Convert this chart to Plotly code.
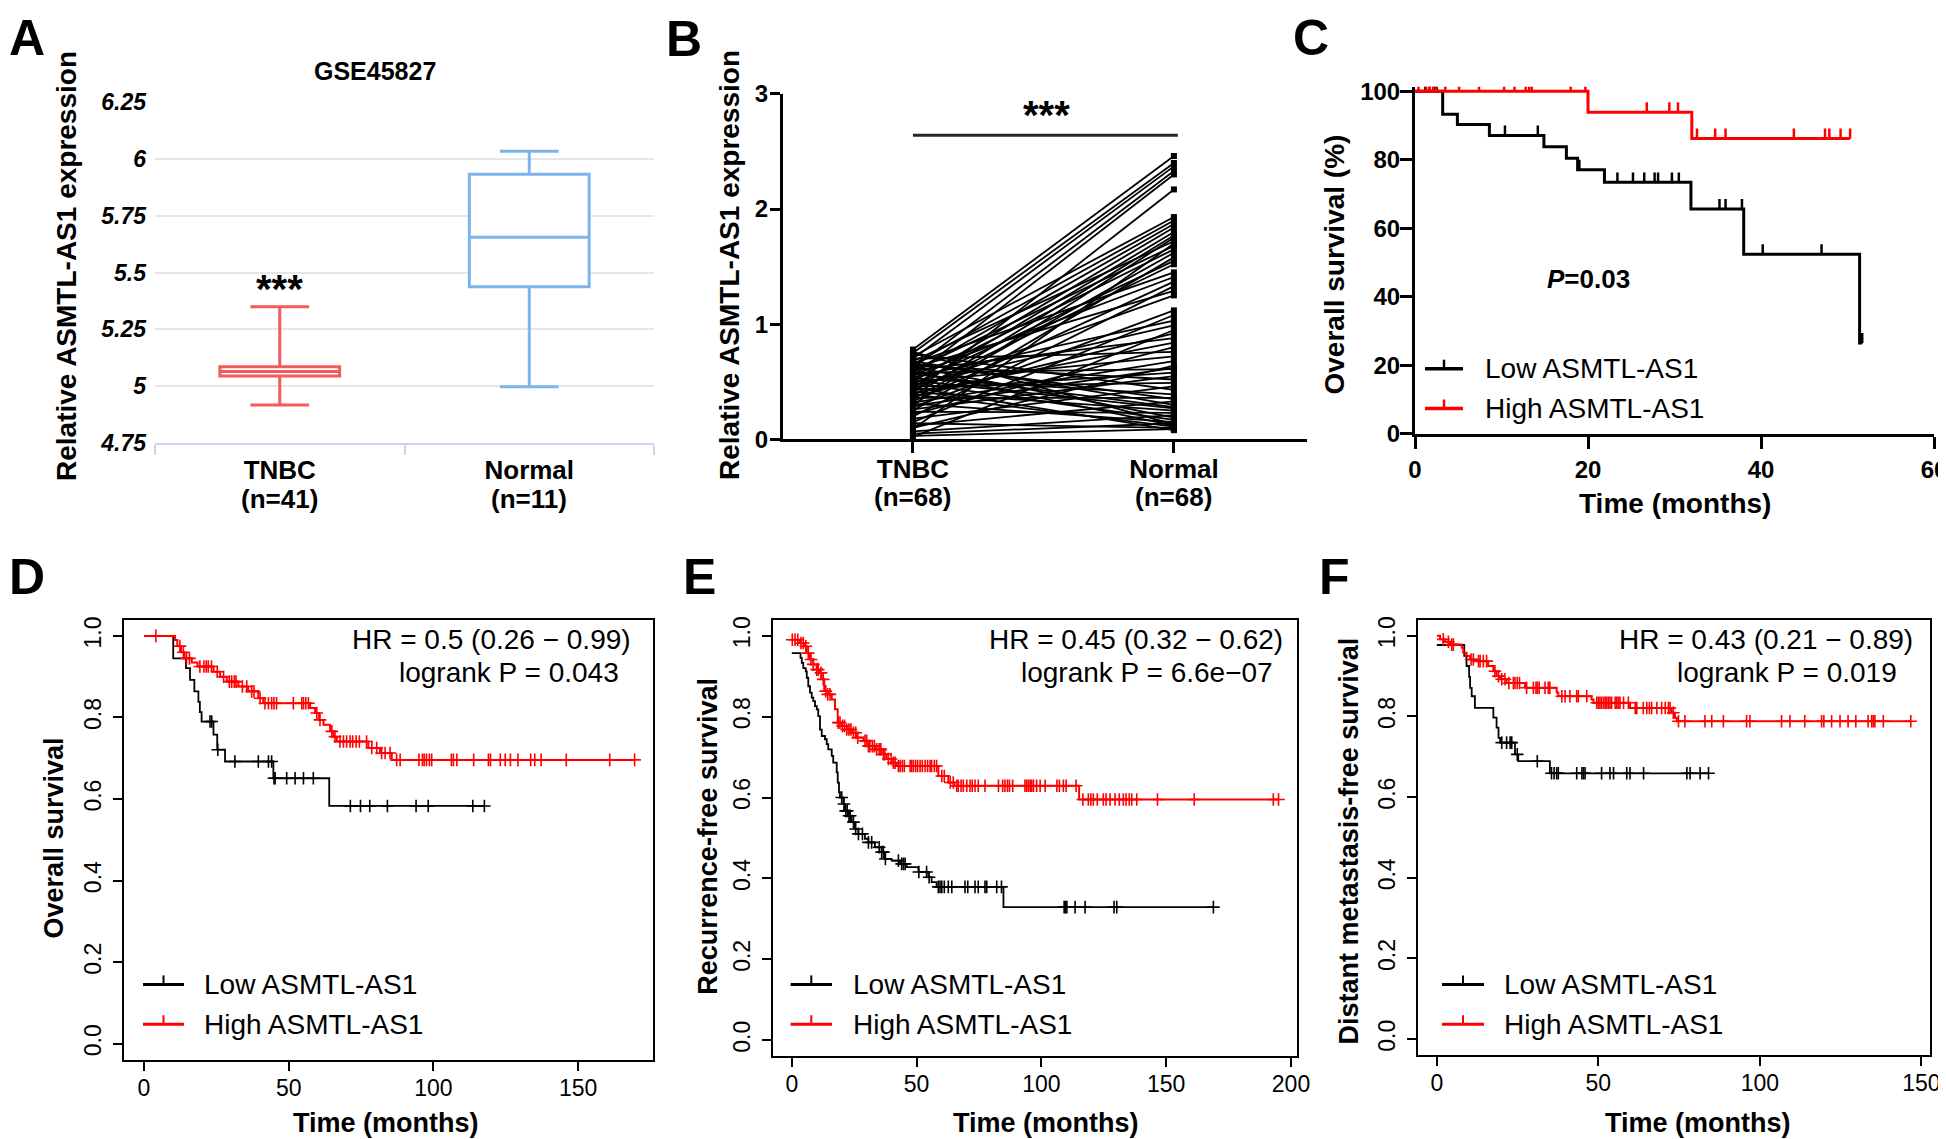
import numpy as np
import plotly.graph_objects as go

# target picture size and the page's default body margin
W, H = 1946, 1139
OFF = 8
FW, FH = W - OFF, H - OFF
FONT = "Liberation Sans, Arial, Helvetica, sans-serif"

# ================= DATA =================
# Panel A: GSE45827 box summary
a_groups = ["TNBC", "Normal"]
a_counts = ["(n=41)", "(n=11)"]
a_lower = [4.917, 4.998]
a_q1 = [5.045, 5.438]
a_median = [5.065, 5.655]
a_q3 = [5.085, 5.932]
a_upper = [5.349, 6.034]
a_colors = ["#f45b5b", "#7cb5ec"]
a_yticks = [4.75, 5, 5.25, 5.5, 5.75, 6, 6.25]
a_yticktext = ["4.75", "5", "5.25", "5.5", "5.75", "6", "6.25"]

# Panel B: paired expression (68 pairs)
b_groups = ["TNBC", "Normal"]
b_counts = ["(n=68)", "(n=68)"]
b_tnbc = [0.78, 0.75, 0.70, 0.62, 0.55, 0.40, 0.72, 0.65, 0.58, 0.50,
          0.45, 0.38, 0.30, 0.68, 0.60, 0.52, 0.35, 0.25, 0.48, 0.42,
          0.66, 0.56, 0.33, 0.20, 0.62, 0.44, 0.28, 0.15, 0.54, 0.47,
          0.37, 0.60, 0.40, 0.22, 0.70, 0.50, 0.32, 0.10, 0.58, 0.43,
          0.26, 0.64, 0.46, 0.18, 0.74, 0.53, 0.36, 0.12, 0.68, 0.57,
          0.41, 0.24, 0.07, 0.63, 0.49, 0.31, 0.05, 0.76, 0.59, 0.39,
          0.14, 0.03, 0.66, 0.51, 0.29, 0.09, 0.45, 0.02]
b_normal = [2.46, 2.40, 2.37, 2.33, 2.30, 2.17, 1.93, 1.90, 1.87, 1.84,
            1.80, 1.77, 1.75, 1.72, 1.68, 1.65, 1.62, 1.58, 1.55, 1.52,
            1.45, 1.41, 1.37, 1.33, 1.29, 1.25, 1.12, 1.08, 1.03, 0.99,
            0.92, 0.88, 0.84, 0.80, 0.76, 0.72, 0.68, 0.64, 0.61, 0.58,
            0.55, 0.52, 0.49, 0.46, 0.43, 0.39, 0.36, 0.33, 0.30, 0.28,
            0.25, 0.23, 0.21, 0.19, 0.17, 0.15, 0.14, 0.13, 0.12, 0.11,
            0.10, 0.09, 0.35, 0.27, 0.62, 1.70, 0.08, 0.95]
b_yticks = [0, 1, 2, 3]

# Panel C: KM overall survival (%), cohort
c_low_s0 = 100
c_low_t = [3.2, 4.9, 8.6, 14.9, 17.5, 18.8, 21.9, 31.9, 38.0, 51.4]
c_low_s = [93.3, 90.3, 87.1, 83.8, 80.4, 77.1, 73.4, 65.6, 52.4, 26.5]
c_low_c = [1.2, 1.7, 2.2, 2.5, 10.4, 14.2, 19.0, 23.4, 25.2, 26.5, 27.7, 28.1,
           29.7, 30.5, 35.2, 35.9, 37.8, 40.2, 47.0, 51.7]
c_high_s0 = 100
c_high_t = [20.0, 32.0]
c_high_s = [93.9, 86.2]
c_high_c = [0.4, 1.3, 1.7, 2.1, 2.4, 3.5, 5.1, 7.4, 10.3, 11.5, 12.8, 13.2, 13.5,
            18.0, 19.7, 26.8, 29.4, 30.4, 32.6, 34.7, 35.9, 43.8, 47.4, 47.9,
            49.2, 50.3]

# Panel D: KM plotter overall survival
d_low_s0 = 1.0
d_low_t = [10.1, 14.5, 15.9, 17.4, 18.8, 19.3, 19.9, 24.0, 25.3, 28.0, 44.7, 64.0]
d_low_s = [0.945, 0.921, 0.892, 0.864, 0.838, 0.813, 0.790, 0.758, 0.721, 0.692, 0.651, 0.583]
d_low_c = [22.8, 23.4, 25.5, 31.4, 39.5, 43.0, 44.1, 44.9, 45.3, 49.3, 52.2, 55.1,
           58.5, 71.3, 74.8, 78.0, 84.1, 94.0, 98.2, 113.6, 117.6]
d_high_s0 = 1.0
d_high_t = [10.7, 11.5, 12.8, 14.0, 16.5, 18.5, 24.0, 26.3, 28.6, 32.6, 36.0, 39.5,
            41.2, 57.4, 59.1, 60.5, 62.0, 64.3, 65.4, 66.6, 77.5, 81.5, 85.6]
d_high_s = [0.99, 0.975, 0.96, 0.945, 0.935, 0.925, 0.912, 0.90, 0.888, 0.876, 0.864,
            0.847, 0.835, 0.823, 0.811, 0.794, 0.782, 0.766, 0.753, 0.741, 0.725,
            0.713, 0.696]
d_high_c = [4.1, 12.4, 13.6, 14.7, 15.7, 19.3, 20.7, 21.5, 22.2, 23.3, 25.3, 27.5,
            29.5, 30.3, 31.2, 31.8, 34.0, 35.5, 37.2, 38.0, 40.1, 41.8, 43.0, 44.1,
            44.9, 45.8, 51.6, 54.5, 55.1, 55.9, 56.8, 59.7, 60.8, 64.9, 66.0, 67.7,
            68.9, 70.0, 71.2, 72.1, 73.3, 74.4, 76.9, 78.7, 80.4, 82.1, 83.3, 85.0,
            87.3, 88.5, 95.0, 96.2, 96.8, 97.6, 98.6, 99.4, 106.2, 106.9, 108.1,
            113.9, 119.0, 119.7, 123.1, 124.8, 126.6, 129.2, 133.6, 135.0, 137.2,
            145.9, 160.9, 169.5]

# Panel E: KM plotter recurrence-free survival
e_low_s0 = 0.957
e_low_t = [3.5, 4.0, 4.6, 5.6, 6.0, 6.6, 7.3, 8.0, 8.6, 9.3, 10.0, 10.6, 11.3, 12.0,
           13.3, 14.0, 14.6, 16.0, 16.6, 18.0, 18.4, 18.9, 19.3, 20.7, 21.3, 22.7,
           24.0, 25.3, 26.7, 29.3, 30.7, 33.3, 36.0, 37.3, 40.0, 43.4, 46.0, 50.7,
           54.7, 56.0, 58.0, 84.8]
e_low_s = [0.945, 0.933, 0.920, 0.912, 0.896, 0.875, 0.859, 0.847, 0.838, 0.826,
           0.818, 0.801, 0.768, 0.752, 0.744, 0.732, 0.719, 0.703, 0.686, 0.662,
           0.637, 0.613, 0.600, 0.584, 0.567, 0.555, 0.539, 0.522, 0.510, 0.498,
           0.489, 0.477, 0.465, 0.448, 0.444, 0.436, 0.428, 0.416, 0.403, 0.391,
           0.379, 0.329]
e_low_c = [20.0, 20.9, 21.6, 22.2, 22.9, 23.4, 24.7, 25.6, 26.7, 28.3, 30.7, 32.0,
           35.0, 36.0, 36.7, 37.5, 42.7, 44.0, 44.7, 45.4, 50.9, 54.0, 55.0, 58.7,
           59.4, 60.1, 61.1, 62.7, 64.1, 69.4, 70.5, 73.4, 74.7, 77.4, 78.1, 82.1,
           84.0, 109.1, 109.6, 110.2, 113.5, 117.5, 129.1, 130.2, 168.9]
e_high_s0 = 0.99
e_high_t = [3.3, 5.3, 6.0, 7.3, 8.6, 10.0, 11.3, 12.0, 13.0, 14.4, 16.0, 17.3, 18.4,
            20.0, 22.0, 24.0, 26.0, 28.7, 30.7, 33.3, 36.0, 38.0, 40.0, 42.0, 58.7,
            62.7, 65.0, 115.1]
e_high_s = [0.982, 0.974, 0.957, 0.941, 0.929, 0.916, 0.908, 0.892, 0.863, 0.855,
            0.842, 0.818, 0.785, 0.777, 0.768, 0.760, 0.748, 0.740, 0.727, 0.719,
            0.707, 0.695, 0.686, 0.678, 0.653, 0.637, 0.629, 0.595]
e_high_c = [0.2, 1.3, 2.4, 3.7, 4.6, 5.6, 6.6, 7.7, 8.6, 10.0, 10.6, 11.7, 12.6, 13.6,
            14.4, 15.3, 18.6, 19.3, 20.3, 21.1, 22.0, 22.9, 23.7, 24.7, 25.6, 26.4,
            29.3, 30.0, 30.7, 31.3, 32.3, 33.1, 34.0, 35.0, 35.7, 36.7, 37.3, 38.7,
            39.8, 40.7, 41.4, 42.7, 43.4, 44.3, 45.1, 47.4, 48.0, 48.7, 49.6, 50.4,
            51.4, 52.3, 53.4, 54.4, 55.4, 56.0, 57.1, 58.0, 60.1, 61.1, 63.5, 64.7,
            66.1, 66.7, 67.8, 68.7, 70.1, 71.4, 72.3, 73.4, 74.7, 77.4, 82.8, 84.5,
            85.4, 86.4, 87.2, 88.5, 93.4, 94.1, 94.8, 95.5, 96.1, 96.8, 98.1, 99.5,
            101.5, 106.2, 107.2, 108.8, 109.9, 113.9, 116.6, 118.8, 119.8, 120.8,
            122.4, 124.8, 125.9, 127.5, 129.5, 131.2, 132.8, 133.9, 135.2, 136.2,
            138.2, 146.5, 161.2, 192.9, 195.0]

# Panel F: KM plotter distant metastasis-free survival
f_low_s0 = 0.977
f_low_t = [8.5, 9.2, 10.0, 10.3, 10.8, 11.8, 17.5, 18.5, 19.1, 19.6, 24.2, 25.2, 35.0]
f_low_s = [0.950, 0.925, 0.898, 0.871, 0.850, 0.821, 0.797, 0.772, 0.747, 0.735,
           0.706, 0.689, 0.659]
f_low_c = [20.1, 21.6, 22.7, 23.2, 24.9, 31.1, 35.5, 36.3, 37.1, 37.6, 43.3, 44.9,
           45.4, 45.9, 51.0, 53.6, 54.7, 58.8, 59.8, 64.0, 77.4, 78.4, 81.5, 84.1]
f_high_s0 = 1.0
f_high_t = [1.0, 2.5, 4.1, 7.7, 8.2, 9.2, 10.3, 12.0, 15.9, 17.5, 18.5, 19.6, 21.6,
            27.3, 37.1, 37.6, 47.9, 48.5, 59.8, 72.7, 73.7, 74.3]
f_high_s = [0.991, 0.985, 0.978, 0.970, 0.958, 0.950, 0.941, 0.937, 0.925, 0.912,
            0.900, 0.892, 0.883, 0.871, 0.859, 0.850, 0.842, 0.834, 0.821, 0.809,
            0.797, 0.788]
f_high_c = [2.0, 3.6, 4.6, 5.1, 10.6, 11.3, 12.9, 13.4, 14.4, 15.4, 18.0, 19.1, 20.1,
            21.1, 22.3, 23.7, 24.2, 24.9, 25.6, 27.8, 29.9, 30.7, 31.1, 31.7, 33.5,
            34.5, 35.0, 38.7, 39.7, 41.2, 43.3, 43.8, 46.4, 49.5, 50.0, 50.5, 51.0,
            51.6, 52.1, 52.6, 53.1, 53.6, 54.1, 55.2, 55.7, 56.2, 56.7, 57.8, 59.3,
            61.4, 61.9, 63.9, 65.0, 65.8, 66.5, 68.1, 69.6, 70.7, 71.7, 72.2, 73.2,
            74.8, 76.8, 83.0, 85.1, 88.7, 95.9, 96.9, 106.7, 109.3, 113.9, 119.1,
            119.8, 122.2, 124.8, 127.3, 129.7, 133.5, 134.6, 135.1, 135.6, 138.2, 146.7]

legend_labels = ["Low ASMTL-AS1", "High ASMTL-AS1"]
km_stats = {
    "D": ["HR = 0.5 (0.26 \u2212 0.99)", "logrank P = 0.043"],
    "E": ["HR = 0.45 (0.32 \u2212 0.62)", "logrank P = 6.6e\u221207"],
    "F": ["HR = 0.43 (0.21 \u2212 0.89)", "logrank P = 0.019"],
}
km_ytitles = {"D": "Overall survival", "E": "Recurrence-free survival",
              "F": "Distant metastasis-free survival"}
km_xticks = {"D": [0, 50, 100, 150], "E": [0, 50, 100, 150, 200], "F": [0, 50, 100, 150]}
km_yticks = [0, 0.2, 0.4, 0.6, 0.8, 1.0]
c_xticks = [0, 20, 40, 60]
c_yticks = [0, 20, 40, 60, 80, 100]


# ================= HELPERS (page pixel -> paper) =================
def px(p):
    return (p - OFF) / FW


def py(p):
    return 1 - (p - OFF) / FH


def dom_x(a, b):
    return [px(a), px(b)]


def dom_y(top, bot):
    return [py(bot), py(top)]


annotations = []
shapes = []


def text(x, y, s, size, bold=False, xanchor="center", angle=0, color="black"):
    annotations.append(dict(
        x=px(x), y=py(y), xref="paper", yref="paper", text=s, showarrow=False,
        xanchor=xanchor, yanchor="middle", textangle=angle, borderpad=0,
        font=dict(family=FONT, size=size, color=color,
                  weight="bold" if bold else "normal")))


def km(fig, t, s, cens, s0, color, xa, ya, lw, mark):
    t_end = max(t[-1], cens[-1])
    xs = [0.0] + list(t) + [t_end]
    ys = [s0] + list(s) + [s[-1]]
    fig.add_trace(go.Scatter(x=xs, y=ys, mode="lines",
                             line=dict(color=color, width=lw, shape="hv"),
                             xaxis=xa, yaxis=ya, hoverinfo="skip", showlegend=False))
    ev = np.array(t)
    sv = np.array(s)
    idx = np.searchsorted(ev, np.array(cens), side="right") - 1
    cy = np.where(idx >= 0, sv[np.clip(idx, 0, None)], s0)
    if mark == "plus":
        fig.add_trace(go.Scatter(
            x=cens, y=cy.tolist(), mode="markers", xaxis=xa, yaxis=ya, hoverinfo="skip",
            showlegend=False, cliponaxis=False,
            marker=dict(symbol="cross-thin", size=9, color=color,
                        line=dict(color=color, width=1.6))))
    else:
        n = len(cens)
        fig.add_trace(go.Scatter(
            x=cens, y=cy.tolist(), mode="markers", xaxis=xa, yaxis=ya, hoverinfo="skip",
            showlegend=False, cliponaxis=False,
            marker=dict(size=1, color=color),
            error_y=dict(type="data", symmetric=False, array=[2.9] * n,
                         arrayminus=[0] * n, width=0, thickness=2.5, color=color)))


def legend(x0, x1, tx, ys, colors, lw, size):
    for y, c, lab in zip(ys, colors, legend_labels):
        shapes.append(dict(type="line", xref="paper", yref="paper",
                           x0=px(x0), x1=px(x1), y0=py(y), y1=py(y),
                           line=dict(color=c, width=lw)))
        xm = (x0 + x1) / 2
        shapes.append(dict(type="line", xref="paper", yref="paper",
                           x0=px(xm), x1=px(xm), y0=py(y + 1), y1=py(y - 9),
                           line=dict(color=c, width=max(lw - 1, 1.5))))
        text(tx, y, lab, size, xanchor="left")


fig = go.Figure()

# ================= PANEL A =================
for i, g in enumerate(a_groups):
    fig.add_trace(go.Box(
        x=[g], q1=[a_q1[i]], median=[a_median[i]], q3=[a_q3[i]],
        lowerfence=[a_lower[i]], upperfence=[a_upper[i]],
        fillcolor="white", line=dict(color=a_colors[i], width=3),
        width=0.48, whiskerwidth=0.49, boxpoints=False,
        xaxis="x", yaxis="y", hoverinfo="skip", showlegend=False))

# ================= PANEL B =================
bx, by = [], []
for a, b in zip(b_tnbc, b_normal):
    bx += [0, 1, None]
    by += [a, b, None]
fig.add_trace(go.Scatter(x=bx, y=by, mode="lines", line=dict(color="black", width=1.8),
                         xaxis="x2", yaxis="y2", hoverinfo="skip", showlegend=False))
fig.add_trace(go.Scatter(x=[0] * len(b_tnbc) + [1] * len(b_normal), y=b_tnbc + b_normal,
                         mode="markers", marker=dict(symbol="square", size=6, color="black"),
                         xaxis="x2", yaxis="y2", hoverinfo="skip", showlegend=False,
                         cliponaxis=False))

# ================= PANEL C =================
km(fig, c_low_t, c_low_s, c_low_c, c_low_s0, "black", "x3", "y3", 3, "tick")
km(fig, c_high_t, c_high_s, c_high_c, c_high_s0, "#ff0000", "x3", "y3", 3, "tick")

# ================= PANELS D, E, F =================
km(fig, d_low_t, d_low_s, d_low_c, d_low_s0, "black", "x4", "y4", 1.8, "plus")
km(fig, d_high_t, d_high_s, d_high_c, d_high_s0, "#ff0000", "x4", "y4", 2, "plus")
km(fig, e_low_t, e_low_s, e_low_c, e_low_s0, "black", "x5", "y5", 1.8, "plus")
km(fig, e_high_t, e_high_s, e_high_c, e_high_s0, "#ff0000", "x5", "y5", 2, "plus")
km(fig, f_low_t, f_low_s, f_low_c, f_low_s0, "black", "x6", "y6", 1.8, "plus")
km(fig, f_high_t, f_high_s, f_high_c, f_high_s0, "#ff0000", "x6", "y6", 2, "plus")

# ================= AXES =================
bold_font = lambda s: dict(family=FONT, size=s, color="black", weight="bold")
layout = dict(
    width=FW, height=FH, autosize=False,
    margin=dict(l=0, r=0, t=0, b=0, pad=0, autoexpand=False),
    paper_bgcolor="white", plot_bgcolor="white", showlegend=False,
    font=dict(family=FONT, color="black"),
)

layout["xaxis"] = dict(
    domain=dom_x(155, 654), anchor="y", type="category", categoryorder="array",
    categoryarray=a_groups, range=[-0.5, 1.5], showline=True, linecolor="#ccd6eb",
    linewidth=2, ticks="outside", tickson="boundaries", ticklen=10, tickwidth=2,
    tickcolor="#ccd6eb", tickfont=bold_font(26), ticklabelstandoff=3, showgrid=False,
    zeroline=False, fixedrange=True, automargin=False)
layout["yaxis"] = dict(
    domain=dom_y(101.5, 443), anchor="x", range=[4.75, 6.2525], tickvals=a_yticks,
    ticktext=a_yticktext, showgrid=True, gridcolor="#e6e6e6", gridwidth=2,
    showline=False, zeroline=False, ticks="", ticklabelstandoff=8, automargin=False,
    tickfont=dict(family=FONT, size=23, color="black", weight="bold", style="italic"))

layout["xaxis2"] = dict(
    domain=dom_x(783, 1307), anchor="y2", range=[-0.498, 1.51], tickvals=[0, 1],
    ticktext=b_groups, showline=True, linecolor="black", linewidth=3, ticks="outside",
    ticklen=11, tickwidth=3, tickcolor="black", tickfont=bold_font(26),
    ticklabelstandoff=-7, showgrid=False, zeroline=False, automargin=False)
layout["yaxis2"] = dict(
    domain=dom_y(93.8, 439.4), anchor="x2", range=[0, 3], tickvals=b_yticks,
    showline=True, linecolor="black", linewidth=3, ticks="outside", ticklen=10,
    tickwidth=3, tickcolor="black", tickfont=bold_font(24), ticklabelstandoff=-3,
    showgrid=False, zeroline=False, automargin=False)

layout["xaxis3"] = dict(
    domain=dom_x(1415, 1934), anchor="y3", range=[0, 60], tickvals=c_xticks,
    showline=True, linecolor="black", linewidth=3, ticks="outside", ticklen=12,
    tickwidth=3, tickcolor="black", tickfont=bold_font(24), ticklabeloverflow="allow",
    showgrid=False, zeroline=False, automargin=False)
layout["yaxis3"] = dict(
    domain=dom_y(86.8, 433.7), anchor="x3", range=[0, 101.3], tickvals=c_yticks,
    showline=True, linecolor="black", linewidth=3, ticks="outside", ticklen=12,
    tickwidth=3, tickcolor="black", tickfont=bold_font(24), ticklabelstandoff=-5,
    showgrid=False, zeroline=False, automargin=False)

km_boxes = {
    "D": (4, (124.2, 653.4), (-6.84, 176.0), (619.6, 1060.0)),
    "E": (5, (772.7, 1297.0), (-7.65, 202.4), (619.5, 1056.4)),
    "F": (6, (1418.2, 1929.5), (-5.76, 152.5), (619.6, 1055.3)),
}
for key, (n, (x0, x1), xr, (yt, yb)) in km_boxes.items():
    layout[f"xaxis{n}"] = dict(
        domain=dom_x(x0, x1), anchor=f"y{n}", range=list(xr), tickvals=km_xticks[key],
        showline=True, mirror=True, linecolor="black", linewidth=2, ticks="outside",
        ticklen=9, tickwidth=1.5, tickcolor="black", ticklabelstandoff=-3,
        ticklabeloverflow="allow",
        tickfont=dict(family=FONT, size=23, color="black"), showgrid=False,
        zeroline=False, automargin=False)
    layout[f"yaxis{n}"] = dict(
        domain=dom_y(yt, yb), anchor=f"x{n}", range=[-0.04, 1.04], tickvals=km_yticks,
        tickformat=".1f", tickangle=-90, showline=True, mirror=True, linecolor="black",
        linewidth=2, ticks="outside", ticklen=9, tickwidth=1.5, tickcolor="black",
        ticklabelstandoff=3, tickfont=dict(family=FONT, size=23, color="black"),
        showgrid=False, zeroline=False, automargin=False)

# ================= TEXT =================
# panel letters
text(8, 38, "A", 50, bold=True, xanchor="left")
text(665, 39, "B", 50, bold=True, xanchor="left")
text(1292, 38, "C", 50, bold=True, xanchor="left")
text(8, 577, "D", 50, bold=True, xanchor="left")
text(682, 577, "E", 50, bold=True, xanchor="left")
text(1318, 577, "F", 50, bold=True, xanchor="left")

# Panel A
text(375, 71, "GSE45827", 25, bold=True)
text(66, 266, "Relative ASMTL-AS1 expression", 28, bold=True, angle=-90)
text(279, 289, "***", 40, bold=True)
for i, c in enumerate(a_counts):
    annotations.append(dict(x=a_groups[i], xref="x", y=py(499), yref="paper",
                            text=c, showarrow=False, yanchor="middle", borderpad=0,
                            font=bold_font(26)))

# Panel B
text(729, 265, "Relative ASMTL-AS1 expression", 28, bold=True, angle=-90)
text(1046.5, 115, "***", 40, bold=True)
for i, c in enumerate(b_counts):
    annotations.append(dict(x=i, xref="x2", y=py(497), yref="paper",
                            text=c, showarrow=False, yanchor="middle", borderpad=0,
                            font=bold_font(26)))
shapes.append(dict(type="line", xref="x2", yref="y2", x0=0, x1=1.015, y0=2.64, y1=2.64,
                   line=dict(color="#2b2222", width=3)))

# Panel C
text(1334, 264.5, "Overall survival (%)", 28, bold=True, angle=-90)
text(1675, 503.5, "Time (months)", 28, bold=True)
text(1588, 278.5, "<i>P</i>=0.03", 26, bold=True)
legend(1425, 1463, 1484, [368.7, 408.5], ["black", "#ff0000"], 3.5, 28)

# Panels D, E, F
text(54, 838.6, km_ytitles["D"], 27, bold=True, angle=-90)
text(707.7, 836, km_ytitles["E"], 27, bold=True, angle=-90)
text(1349.4, 841, km_ytitles["F"], 27, bold=True, angle=-90)
text(386, 1123, "Time (months)", 27, bold=True)
text(1045.5, 1123, "Time (months)", 27, bold=True)
text(1697.6, 1123, "Time (months)", 27, bold=True)

text(631.5, 639.0, km_stats["D"][0], 28, xanchor="right")
text(619.7, 672.0, km_stats["D"][1], 28, xanchor="right")
text(1283.8, 639.5, km_stats["E"][0], 28, xanchor="right")
text(1273.5, 672.5, km_stats["E"][1], 28, xanchor="right")
text(1913.9, 639.0, km_stats["F"][0], 28, xanchor="right")
text(1898.2, 672.0, km_stats["F"][1], 28, xanchor="right")

legend(143, 184, 203, [984.4, 1024.2], ["black", "#ff0000"], 3, 28)
legend(790.6, 832, 851.5, [984.4, 1024.2], ["black", "#ff0000"], 3, 28)
legend(1442, 1484, 1503, [984.4, 1024.2], ["black", "#ff0000"], 3, 28)

layout["annotations"] = annotations
layout["shapes"] = shapes
fig.update_layout(**layout)

fig.write_html("out.html")
